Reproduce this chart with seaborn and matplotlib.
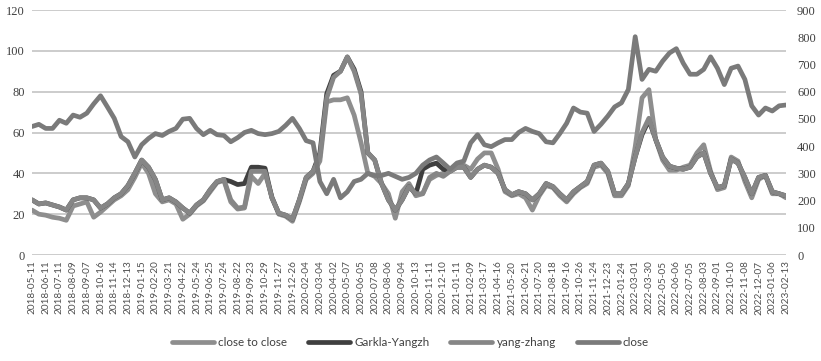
import numpy as np
import pandas as pd
import matplotlib
matplotlib.use("Agg")
import matplotlib.pyplot as plt
import seaborn as sns

sns.set_theme(style="white")
plt.rcParams["font.family"] = ["Lato", "DejaVu Sans"]

tick_labels = [
    "2018-05-11", "2018-06-11", "2018-07-11", "2018-08-09", "2018-09-07", "2018-10-16",
    "2018-11-14", "2018-12-13", "2019-01-15", "2019-02-20", "2019-03-21", "2019-04-22",
    "2019-05-24", "2019-06-25", "2019-07-24", "2019-08-22", "2019-09-23", "2019-10-29",
    "2019-11-27", "2019-12-26", "2020-02-04", "2020-03-04", "2020-04-02", "2020-05-07",
    "2020-06-05", "2020-07-08", "2020-08-06", "2020-09-04", "2020-10-13", "2020-11-11",
    "2020-12-10", "2021-01-11", "2021-02-09", "2021-03-17", "2021-04-16", "2021-05-20",
    "2021-06-21", "2021-07-20", "2021-08-18", "2021-09-16", "2021-10-26", "2021-11-24",
    "2021-12-23", "2022-01-24", "2022-03-01", "2022-03-30", "2022-05-05", "2022-06-06",
    "2022-07-05", "2022-08-03", "2022-09-01", "2022-10-10", "2022-11-08", "2022-12-07",
    "2023-01-06", "2023-02-13",
]

# volatility series (left axis), sampled twice per labelled date
close_to_close = [
    22, 20, 19.5, 18.5, 18, 17, 24, 25, 26, 18.5, 21, 24, 27, 29, 32, 38,
    45, 40, 30, 26, 27, 25, 17.5, 20, 24, 26.5, 31, 35.5, 36.5,
    26, 22.5, 23, 38.5, 35, 40, 28.5, 20, 19, 16.5, 26, 37,
    40, 46, 75, 76, 76, 77, 68.5, 55, 40, 38.5, 35, 30, 18, 31, 35,
    29, 30, 37, 39, 40, 42, 44, 44, 42, 47, 50, 50, 42, 31, 29, 30, 28, 22, 29, 34,
    33, 29, 26, 30, 33, 35, 43, 44, 40, 29, 29, 34, 53, 77, 81, 56.5, 46.5, 41.5, 41.5,
    43, 44, 50, 54, 41, 32, 33, 48, 46, 36, 28, 37, 39, 30, 30, 28,
]
garkla_yangzh = [
    27, 25, 25.5, 24.5, 23.5, 22, 27, 28, 28, 27, 23, 25, 28, 30, 34, 40,
    46.5, 43, 37, 27, 28, 26, 23, 20.5, 24.5, 27, 32, 36, 37,
    36, 34.5, 35, 43, 43, 42.5, 28, 20.5, 19.5, 17.5, 27, 38,
    41, 50, 79, 88, 90, 97, 91, 80, 50, 46.5, 35, 27, 22, 27, 33.5,
    30, 42, 44, 45, 42, 41, 43, 43, 38, 42, 44, 43, 40, 32, 29.5, 31, 30, 27, 30, 35,
    33.5, 30, 27, 31, 33.5, 36, 44, 45, 41, 30, 30, 35, 48, 59, 66, 56.5, 48, 43.5, 42.5,
    42, 43, 48, 50, 40, 33, 34, 47, 45, 38, 30, 38, 39, 31, 30, 29,
]
yang_zhang = [
    27, 25, 25.5, 24.5, 23.5, 22, 27, 28, 28, 27, 23, 25, 28, 30, 34, 40,
    46.5, 43, 37, 27, 28, 26, 23, 20.5, 24.5, 27, 32, 36, 37,
    27, 23, 23.5, 41, 41, 41, 28, 20.5, 19.5, 17.5, 27, 38,
    41, 48, 77, 87, 90, 97, 90, 79, 50, 46.5, 35, 27, 22, 27, 33.5,
    30, 30, 38, 40, 38.5, 41, 43, 43, 38, 42, 44, 43, 40, 32, 29.5, 31, 30, 27, 30, 35,
    33.5, 30, 27, 31, 33.5, 36, 44, 45, 41, 30, 30, 35, 48, 60, 67, 56.5, 48, 43.5, 42.5,
    42, 43, 48, 50, 40, 33, 34, 47, 45, 38, 30, 38, 39, 31, 30, 29,
]
# price series (right axis)
close_price = [
    472, 480, 465, 465, 495, 484, 514, 506, 521, 555, 585, 544, 502, 435, 416, 360,
    405, 428, 446, 439, 454, 465, 499, 502, 465, 442, 458, 442, 439, 416, 431, 450, 458, 446, 442, 446, 454, 476, 502, 465, 420,
    412, 270, 225, 278, 210, 232, 270, 278, 300, 292, 292, 300, 289, 278, 285,
    300, 330, 349, 360, 338, 315, 338, 345, 412, 442, 405, 398, 412, 424, 424, 450, 465, 454, 446, 416,
    412, 446, 484, 540, 525, 521, 454, 480, 510, 544, 559, 608, 802, 645, 682, 675, 712, 742, 758,
    705, 664, 664, 682, 728, 686, 626, 686, 694, 645, 548, 514, 540, 529, 548, 551,
]

n = len(close_price)
df = pd.DataFrame({
    "pos": np.arange(n) / 2.0,
    "close to close": close_to_close,
    "Garkla-Yangzh": garkla_yangzh,
    "yang-zhang": yang_zhang,
    "close": close_price,
})

colors = {
    "close to close": "#8e8e8e",
    "Garkla-Yangzh": "#3f3f3f",
    "yang-zhang": "#868686",
    "close": "#7a7a7a",
}
lw = 3.4

fig = plt.figure(figsize=(8.21, 3.61), dpi=100)
ax = fig.add_axes([32 / 821, 1 - 255 / 361, (786 - 32) / 821, 245 / 361])
ax2 = ax.twinx()

for name in ["close to close", "Garkla-Yangzh", "yang-zhang"]:
    sns.lineplot(data=df, x="pos", y=name, ax=ax, color=colors[name], lw=lw, legend=False)
sns.lineplot(data=df, x="pos", y="close", ax=ax2, color=colors["close"], lw=lw, legend=False)

ax.set_xlim(0, len(tick_labels) - 1)
ax.set_ylim(0, 120)
ax2.set_ylim(0, 900)
ax.set_yticks(range(0, 121, 20))
ax2.set_yticks(range(0, 901, 100))
ax.set_xticks(range(len(tick_labels)))
ax.set_xticklabels(tick_labels, rotation=90, fontsize=7.2, color="#505050")
ax.set_xlabel("")
ax.set_ylabel("")
ax2.set_ylabel("")

ax.grid(axis="y", color="#c8c8c8", lw=1.3)
ax.grid(axis="x", visible=False)
ax2.grid(False)
ax.set_axisbelow(True)
for a in (ax, ax2):
    for s in a.spines.values():
        s.set_visible(False)
    a.tick_params(length=0)
ax.tick_params(axis="x", pad=4)
ax.tick_params(axis="y", pad=5)
ax2.tick_params(axis="y", pad=8)
for lab in ax.get_yticklabels() + ax2.get_yticklabels():
    lab.set_fontfamily("Liberation Serif")
    lab.set_fontsize(9)
    lab.set_color("#404040")

handles = [plt.Line2D([], [], color=colors[k], lw=lw) for k in colors]
fig.legend(handles, list(colors.keys()), loc="center", bbox_to_anchor=(0.5, 1 - 343 / 361),
           ncol=4, frameon=False, fontsize=8.4, handlelength=3.6, handletextpad=0.35,
           columnspacing=1.8, labelcolor="#404040")

fig.savefig("out.png", dpi=100)
